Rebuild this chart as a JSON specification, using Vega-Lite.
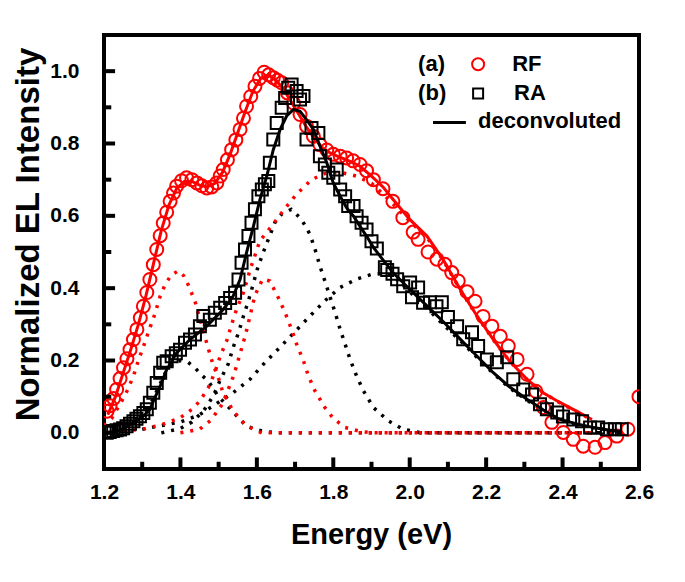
{
  "$schema": "https://vega.github.io/schema/vega-lite/v6.json",
  "width": 535,
  "height": 434,
  "autosize": {"type": "none"},
  "padding": {"left": 104, "top": 35, "right": 46, "bottom": 113},
  "background": "white",
  "config": {
    "view": {"stroke": "#000", "strokeWidth": 4},
    "font": "Liberation Sans",
    "axis": {
      "domain": false, "grid": false, "ticks": false,
      "labelFont": "Liberation Sans", "labelFontWeight": "bold", "labelFontSize": 21, "labelColor": "#000",
      "titleFont": "Liberation Sans", "titleFontWeight": "bold", "titleColor": "#000",
      "labelFlush": false, "labelOverlap": false, "labelBound": false
    }
  },
  "datasets": {
    "rf": [
      {"E":1.208,"I":0.06},{"E":1.216,"I":0.075},{"E":1.225,"I":0.095},{"E":1.233,"I":0.12},{"E":1.242,"I":0.15},{"E":1.251,"I":0.18},{"E":1.26,"I":0.205},{"E":1.268,"I":0.23},{"E":1.277,"I":0.258},{"E":1.286,"I":0.286},{"E":1.295,"I":0.318},{"E":1.303,"I":0.35},{"E":1.312,"I":0.388},{"E":1.32,"I":0.424},{"E":1.329,"I":0.465},{"E":1.338,"I":0.507},{"E":1.347,"I":0.545},{"E":1.355,"I":0.58},{"E":1.364,"I":0.61},{"E":1.373,"I":0.64},{"E":1.382,"I":0.663},{"E":1.39,"I":0.682},{"E":1.403,"I":0.697},{"E":1.416,"I":0.705},{"E":1.43,"I":0.7},{"E":1.443,"I":0.691},{"E":1.456,"I":0.683},{"E":1.469,"I":0.677},{"E":1.482,"I":0.68},{"E":1.495,"I":0.691},{"E":1.504,"I":0.71},{"E":1.512,"I":0.728},{"E":1.523,"I":0.755},{"E":1.534,"I":0.783},{"E":1.545,"I":0.81},{"E":1.556,"I":0.839},{"E":1.565,"I":0.87},{"E":1.573,"I":0.903},{"E":1.584,"I":0.93},{"E":1.595,"I":0.958},{"E":1.607,"I":0.98},{"E":1.619,"I":0.997},{"E":1.631,"I":0.99},{"E":1.643,"I":0.982},{"E":1.654,"I":0.975},{"E":1.665,"I":0.968},{"E":1.68,"I":0.94},{"E":1.696,"I":0.912},{"E":1.713,"I":0.88},{"E":1.73,"I":0.848},{"E":1.748,"I":0.82},{"E":1.765,"I":0.797},{"E":1.783,"I":0.782},{"E":1.8,"I":0.77},{"E":1.818,"I":0.765},{"E":1.835,"I":0.76},{"E":1.852,"I":0.752},{"E":1.87,"I":0.742},{"E":1.887,"I":0.725},{"E":1.905,"I":0.7},{"E":1.93,"I":0.675},{"E":1.956,"I":0.64},{"E":1.982,"I":0.595},{"E":2.009,"I":0.555},{"E":2.022,"I":0.535},{"E":2.048,"I":0.5},{"E":2.071,"I":0.48},{"E":2.092,"I":0.466},{"E":2.11,"I":0.443},{"E":2.127,"I":0.42},{"E":2.15,"I":0.39},{"E":2.171,"I":0.364},{"E":2.192,"I":0.322},{"E":2.215,"I":0.295},{"E":2.237,"I":0.267},{"E":2.258,"I":0.24},{"E":2.281,"I":0.203},{"E":2.307,"I":0.162},{"E":2.33,"I":0.115},{"E":2.35,"I":0.07},{"E":2.372,"I":0.029},{"E":2.402,"I":0.001},{"E":2.428,"I":-0.018},{"E":2.454,"I":-0.037},{"E":2.485,"I":-0.04},{"E":2.511,"I":-0.027},{"E":2.542,"I":-0.009},{"E":2.571,"I":0.01},{"E":2.6,"I":0.1}
    ],
    "ra": [
      {"E":1.207,"I":0.0},{"E":1.215,"I":0.002},{"E":1.224,"I":0.005},{"E":1.233,"I":0.007},{"E":1.242,"I":0.009},{"E":1.25,"I":0.013},{"E":1.259,"I":0.018},{"E":1.268,"I":0.025},{"E":1.277,"I":0.032},{"E":1.285,"I":0.039},{"E":1.294,"I":0.046},{"E":1.303,"I":0.055},{"E":1.312,"I":0.065},{"E":1.32,"I":0.083},{"E":1.329,"I":0.111},{"E":1.338,"I":0.138},{"E":1.347,"I":0.166},{"E":1.355,"I":0.194},{"E":1.364,"I":0.198},{"E":1.377,"I":0.212},{"E":1.388,"I":0.22},{"E":1.399,"I":0.23},{"E":1.412,"I":0.249},{"E":1.425,"I":0.258},{"E":1.438,"I":0.272},{"E":1.451,"I":0.295},{"E":1.46,"I":0.323},{"E":1.477,"I":0.313},{"E":1.49,"I":0.332},{"E":1.504,"I":0.346},{"E":1.517,"I":0.359},{"E":1.53,"I":0.373},{"E":1.543,"I":0.387},{"E":1.552,"I":0.424},{"E":1.56,"I":0.47},{"E":1.569,"I":0.507},{"E":1.578,"I":0.544},{"E":1.586,"I":0.581},{"E":1.595,"I":0.618},{"E":1.604,"I":0.654},{"E":1.613,"I":0.673},{"E":1.621,"I":0.687},{"E":1.63,"I":0.696},{"E":1.634,"I":0.747},{"E":1.643,"I":0.811},{"E":1.652,"I":0.857},{"E":1.665,"I":0.899},{"E":1.674,"I":0.926},{"E":1.682,"I":0.954},{"E":1.691,"I":0.963},{"E":1.704,"I":0.945},{"E":1.713,"I":0.922},{"E":1.722,"I":0.931},{"E":1.73,"I":0.811},{"E":1.743,"I":0.843},{"E":1.761,"I":0.829},{"E":1.765,"I":0.765},{"E":1.778,"I":0.742},{"E":1.787,"I":0.719},{"E":1.8,"I":0.705},{"E":1.809,"I":0.728},{"E":1.818,"I":0.673},{"E":1.831,"I":0.654},{"E":1.839,"I":0.627},{"E":1.853,"I":0.627},{"E":1.861,"I":0.599},{"E":1.874,"I":0.581},{"E":1.887,"I":0.562},{"E":1.9,"I":0.53},{"E":1.914,"I":0.51},{"E":1.935,"I":0.458},{"E":1.941,"I":0.45},{"E":1.955,"I":0.44},{"E":1.967,"I":0.425},{"E":1.983,"I":0.405},{"E":2.001,"I":0.416},{"E":2.006,"I":0.375},{"E":2.022,"I":0.402},{"E":2.035,"I":0.36},{"E":2.053,"I":0.361},{"E":2.07,"I":0.35},{"E":2.084,"I":0.361},{"E":2.1,"I":0.32},{"E":2.124,"I":0.295},{"E":2.14,"I":0.259},{"E":2.163,"I":0.278},{"E":2.179,"I":0.24},{"E":2.202,"I":0.203},{"E":2.228,"I":0.195},{"E":2.255,"I":0.209},{"E":2.271,"I":0.148},{"E":2.297,"I":0.12},{"E":2.32,"I":0.106},{"E":2.341,"I":0.079},{"E":2.359,"I":0.065},{"E":2.386,"I":0.056},{"E":2.401,"I":0.045},{"E":2.428,"I":0.037},{"E":2.451,"I":0.032},{"E":2.472,"I":0.015},{"E":2.493,"I":0.015},{"E":2.516,"I":0.01},{"E":2.537,"I":0.01},{"E":2.555,"I":0.01}
    ],
    "rffit": [
      {"E":1.21,"I":0.05},{"E":1.23,"I":0.1},{"E":1.25,"I":0.165},{"E":1.27,"I":0.23},{"E":1.29,"I":0.3},{"E":1.31,"I":0.38},{"E":1.33,"I":0.47},{"E":1.35,"I":0.56},{"E":1.37,"I":0.63},{"E":1.39,"I":0.675},{"E":1.41,"I":0.695},{"E":1.43,"I":0.695},{"E":1.45,"I":0.685},{"E":1.47,"I":0.68},{"E":1.49,"I":0.69},{"E":1.51,"I":0.72},{"E":1.53,"I":0.77},{"E":1.55,"I":0.83},{"E":1.57,"I":0.89},{"E":1.59,"I":0.945},{"E":1.61,"I":0.98},{"E":1.63,"I":0.99},{"E":1.65,"I":0.975},{"E":1.67,"I":0.95},{"E":1.69,"I":0.915},{"E":1.71,"I":0.88},{"E":1.73,"I":0.845},{"E":1.75,"I":0.815},{"E":1.77,"I":0.79},{"E":1.79,"I":0.775},{"E":1.81,"I":0.765},{"E":1.83,"I":0.757},{"E":1.85,"I":0.748},{"E":1.87,"I":0.737},{"E":1.9,"I":0.71},{"E":1.93,"I":0.68},{"E":1.956,"I":0.646},{"E":2.0,"I":0.59},{"E":2.045,"I":0.544},{"E":2.087,"I":0.48},{"E":2.132,"I":0.397},{"E":2.175,"I":0.325},{"E":2.218,"I":0.259},{"E":2.26,"I":0.2},{"E":2.307,"I":0.148},{"E":2.35,"I":0.11},{"E":2.393,"I":0.084},{"E":2.44,"I":0.058},{"E":2.477,"I":0.037}
    ],
    "rafit": [
      {"E":1.207,"I":0.0},{"E":1.242,"I":0.007},{"E":1.277,"I":0.028},{"E":1.303,"I":0.046},{"E":1.32,"I":0.065},{"E":1.333,"I":0.097},{"E":1.347,"I":0.129},{"E":1.364,"I":0.175},{"E":1.39,"I":0.221},{"E":1.425,"I":0.258},{"E":1.469,"I":0.295},{"E":1.512,"I":0.341},{"E":1.538,"I":0.378},{"E":1.556,"I":0.424},{"E":1.573,"I":0.498},{"E":1.591,"I":0.571},{"E":1.608,"I":0.645},{"E":1.626,"I":0.71},{"E":1.643,"I":0.783},{"E":1.661,"I":0.839},{"E":1.678,"I":0.876},{"E":1.696,"I":0.894},{"E":1.713,"I":0.889},{"E":1.73,"I":0.866},{"E":1.748,"I":0.839},{"E":1.765,"I":0.793},{"E":1.783,"I":0.747},{"E":1.8,"I":0.691},{"E":1.818,"I":0.654},{"E":1.835,"I":0.622},{"E":1.853,"I":0.599},{"E":1.87,"I":0.571},{"E":1.887,"I":0.544},{"E":1.905,"I":0.513},{"E":1.93,"I":0.478},{"E":1.956,"I":0.443},{"E":2.0,"I":0.397},{"E":2.045,"I":0.351},{"E":2.09,"I":0.305},{"E":2.132,"I":0.259},{"E":2.175,"I":0.213},{"E":2.218,"I":0.167},{"E":2.26,"I":0.128},{"E":2.307,"I":0.093},{"E":2.35,"I":0.063},{"E":2.393,"I":0.037},{"E":2.44,"I":0.024},{"E":2.48,"I":0.015},{"E":2.52,"I":0.008},{"E":2.55,"I":0.004}
    ],
    "comps": [
      {"c":"K1","E":1.35,"I":0.0},{"c":"K1","E":1.4,"I":0.012},{"c":"K1","E":1.43,"I":0.03},{"c":"K1","E":1.46,"I":0.06},{"c":"K1","E":1.486,"I":0.102},{"c":"K1","E":1.505,"I":0.148},{"c":"K1","E":1.525,"I":0.19},{"c":"K1","E":1.538,"I":0.236},{"c":"K1","E":1.552,"I":0.277},{"c":"K1","E":1.565,"I":0.323},{"c":"K1","E":1.578,"I":0.365},{"c":"K1","E":1.589,"I":0.406},{"c":"K1","E":1.601,"I":0.452},{"c":"K1","E":1.615,"I":0.494},{"c":"K1","E":1.63,"I":0.535},{"c":"K1","E":1.647,"I":0.581},{"c":"K1","E":1.665,"I":0.605},{"c":"K1","E":1.69,"I":0.618},{"c":"K1","E":1.717,"I":0.59},{"c":"K1","E":1.739,"I":0.549},{"c":"K1","E":1.752,"I":0.508},{"c":"K1","E":1.765,"I":0.461},{"c":"K1","E":1.778,"I":0.42},{"c":"K1","E":1.792,"I":0.374},{"c":"K1","E":1.805,"I":0.332},{"c":"K1","E":1.818,"I":0.286},{"c":"K1","E":1.831,"I":0.245},{"c":"K1","E":1.844,"I":0.203},{"c":"K1","E":1.861,"I":0.157},{"c":"K1","E":1.879,"I":0.116},{"c":"K1","E":1.905,"I":0.07},{"c":"K1","E":1.944,"I":0.033},{"c":"K1","E":1.983,"I":0.01},{"c":"K1","E":2.03,"I":0.0},{"c":"K1","E":2.55,"I":0.0},
      {"c":"K2","E":1.3,"I":0.01},{"c":"K2","E":1.4,"I":0.03},{"c":"K2","E":1.45,"I":0.05},{"c":"K2","E":1.499,"I":0.084},{"c":"K2","E":1.538,"I":0.111},{"c":"K2","E":1.582,"I":0.148},{"c":"K2","E":1.621,"I":0.194},{"c":"K2","E":1.66,"I":0.236},{"c":"K2","E":1.7,"I":0.28},{"c":"K2","E":1.739,"I":0.323},{"c":"K2","E":1.778,"I":0.365},{"c":"K2","E":1.818,"I":0.402},{"c":"K2","E":1.861,"I":0.425},{"c":"K2","E":1.9,"I":0.438},{"c":"K2","E":1.93,"I":0.44},{"c":"K2","E":1.956,"I":0.435},{"c":"K2","E":2.0,"I":0.39},{"c":"K2","E":2.045,"I":0.345},{"c":"K2","E":2.087,"I":0.3},{"c":"K2","E":2.132,"I":0.255},{"c":"K2","E":2.175,"I":0.21},{"c":"K2","E":2.218,"I":0.165},{"c":"K2","E":2.26,"I":0.125},{"c":"K2","E":2.307,"I":0.09},{"c":"K2","E":2.35,"I":0.06},{"c":"K2","E":2.393,"I":0.036},{"c":"K2","E":2.44,"I":0.022},{"c":"K2","E":2.48,"I":0.014},{"c":"K2","E":2.55,"I":0.004},
      {"c":"K3","E":1.2,"I":0.0},{"c":"K3","E":1.25,"I":0.01},{"c":"K3","E":1.28,"I":0.03},{"c":"K3","E":1.3,"I":0.045},{"c":"K3","E":1.32,"I":0.075},{"c":"K3","E":1.34,"I":0.12},{"c":"K3","E":1.36,"I":0.165},{"c":"K3","E":1.38,"I":0.19},{"c":"K3","E":1.4,"I":0.2},{"c":"K3","E":1.42,"I":0.195},{"c":"K3","E":1.438,"I":0.18},{"c":"K3","E":1.455,"I":0.16},{"c":"K3","E":1.473,"I":0.143},{"c":"K3","E":1.499,"I":0.101},{"c":"K3","E":1.534,"I":0.062},{"c":"K3","E":1.573,"I":0.018},{"c":"K3","E":1.613,"I":0.005},{"c":"K3","E":1.65,"I":0.0},{"c":"K3","E":2.55,"I":0.0},
      {"c":"A","E":1.2,"I":0.02},{"c":"A","E":1.22,"I":0.04},{"c":"A","E":1.242,"I":0.079},{"c":"A","E":1.26,"I":0.115},{"c":"A","E":1.277,"I":0.157},{"c":"A","E":1.29,"I":0.2},{"c":"A","E":1.307,"I":0.25},{"c":"A","E":1.32,"I":0.29},{"c":"A","E":1.333,"I":0.328},{"c":"A","E":1.347,"I":0.378},{"c":"A","E":1.36,"I":0.41},{"c":"A","E":1.375,"I":0.435},{"c":"A","E":1.394,"I":0.448},{"c":"A","E":1.408,"I":0.435},{"c":"A","E":1.42,"I":0.41},{"c":"A","E":1.438,"I":0.364},{"c":"A","E":1.455,"I":0.3},{"c":"A","E":1.472,"I":0.236},{"c":"A","E":1.485,"I":0.19},{"c":"A","E":1.5,"I":0.15},{"c":"A","E":1.511,"I":0.112},{"c":"A","E":1.525,"I":0.085},{"c":"A","E":1.538,"I":0.06},{"c":"A","E":1.555,"I":0.04},{"c":"A","E":1.569,"I":0.024},{"c":"A","E":1.59,"I":0.01},{"c":"A","E":1.613,"I":0.0},{"c":"A","E":2.48,"I":0.0},
      {"c":"B","E":1.4,"I":0.0},{"c":"B","E":1.45,"I":0.01},{"c":"B","E":1.48,"I":0.035},{"c":"B","E":1.51,"I":0.08},{"c":"B","E":1.54,"I":0.16},{"c":"B","E":1.57,"I":0.27},{"c":"B","E":1.595,"I":0.38},{"c":"B","E":1.615,"I":0.425},{"c":"B","E":1.634,"I":0.42},{"c":"B","E":1.656,"I":0.374},{"c":"B","E":1.674,"I":0.332},{"c":"B","E":1.691,"I":0.286},{"c":"B","E":1.704,"I":0.245},{"c":"B","E":1.722,"I":0.199},{"c":"B","E":1.735,"I":0.157},{"c":"B","E":1.752,"I":0.116},{"c":"B","E":1.778,"I":0.07},{"c":"B","E":1.8,"I":0.04},{"c":"B","E":1.83,"I":0.015},{"c":"B","E":1.87,"I":0.004},{"c":"B","E":1.9,"I":0.0},{"c":"B","E":2.48,"I":0.0},
      {"c":"C","E":1.25,"I":0.005},{"c":"C","E":1.3,"I":0.01},{"c":"C","E":1.35,"I":0.022},{"c":"C","E":1.4,"I":0.042},{"c":"C","E":1.43,"I":0.065},{"c":"C","E":1.451,"I":0.088},{"c":"C","E":1.473,"I":0.125},{"c":"C","E":1.49,"I":0.167},{"c":"C","E":1.504,"I":0.212},{"c":"C","E":1.521,"I":0.254},{"c":"C","E":1.534,"I":0.3},{"c":"C","E":1.547,"I":0.342},{"c":"C","E":1.565,"I":0.388},{"c":"C","E":1.582,"I":0.45},{"c":"C","E":1.608,"I":0.531},{"c":"C","E":1.639,"I":0.572},{"c":"C","E":1.669,"I":0.614},{"c":"C","E":1.704,"I":0.66},{"c":"C","E":1.743,"I":0.7},{"c":"C","E":1.78,"I":0.718},{"c":"C","E":1.82,"I":0.72},{"c":"C","E":1.86,"I":0.71},{"c":"C","E":1.9,"I":0.69},{"c":"C","E":1.95,"I":0.64},{"c":"C","E":2.0,"I":0.585},{"c":"C","E":2.045,"I":0.54},{"c":"C","E":2.087,"I":0.478},{"c":"C","E":2.132,"I":0.396},{"c":"C","E":2.175,"I":0.324},{"c":"C","E":2.218,"I":0.258},{"c":"C","E":2.26,"I":0.2},{"c":"C","E":2.307,"I":0.147},{"c":"C","E":2.35,"I":0.11},{"c":"C","E":2.393,"I":0.083},{"c":"C","E":2.44,"I":0.057},{"c":"C","E":2.477,"I":0.036}
    ],
    "xmaj": [{"v":1.4},{"v":1.6},{"v":1.8},{"v":2.0},{"v":2.2},{"v":2.4}],
    "xmin": [{"v":1.3},{"v":1.5},{"v":1.7},{"v":1.9},{"v":2.1},{"v":2.3},{"v":2.5}],
    "ymaj": [{"v":0.0},{"v":0.2},{"v":0.4},{"v":0.6},{"v":0.8},{"v":1.0}],
    "ymin": [{"v":0.1},{"v":0.3},{"v":0.5},{"v":0.7},{"v":0.9}],
    "legend": [
      {"k":"(a)","t":"RF"},{"k":"(b)","t":"RA"}
    ]
  },
  "layer": [
    {
      "data": {"name": "comps"},
      "mark": {"type": "line", "strokeWidth": 3.5, "strokeDash": [3, 7], "strokeCap": "butt", "clip": true},
      "encoding": {
        "x": {
          "field": "E", "type": "quantitative",
          "scale": {"domain": [1.2, 2.6], "nice": false, "zero": false},
          "axis": {
            "title": "Energy (eV)", "titleFontSize": 29, "titleX": 267, "titleY": 74, "titleBaseline": "alphabetic", "titleAlign": "center",
            "values": [1.2,1.4,1.6,1.8,2.0,2.2,2.4,2.6],
            "format": ".1f",
            "labelPadding": 12
          }
        },
        "y": {
          "field": "I", "type": "quantitative",
          "scale": {"domain": [-0.1, 1.1], "nice": false, "zero": false},
          "axis": {
            "title": "Normalized EL Intensity", "titleFontSize": 33, "titleX": -66, "titleY": 199, "titleBaseline": "alphabetic", "titleAlign": "center", "titleAngle": -90,
            "values": [0,0.2,0.4,0.6,0.8,1.0],
            "format": ".1f",
            "labelPadding": 25
          }
        },
        "detail": {"field": "c"},
        "color": {"field": "c", "type": "nominal", "legend": null,
          "scale": {"domain": ["K1","K2","K3","A","B","C"], "range": ["#000000","#000000","#000000","#ff0000","#ff0000","#ff0000"]}}
      }
    },
    {
      "data": {"name": "rf"},
      "mark": {"type": "point", "shape": "circle", "filled": false, "size": 169, "strokeWidth": 2, "color": "#ff0000", "opacity": 1, "clip": true},
      "encoding": {"x": {"field": "E", "type": "quantitative"}, "y": {"field": "I", "type": "quantitative"}}
    },
    {
      "data": {"name": "rffit"},
      "mark": {"type": "line", "strokeWidth": 3, "color": "#ff0000"},
      "encoding": {"x": {"field": "E", "type": "quantitative"}, "y": {"field": "I", "type": "quantitative"}}
    },
    {
      "data": {"name": "ra"},
      "mark": {"type": "point", "shape": "square", "filled": false, "size": 144, "strokeWidth": 2, "color": "#000000", "opacity": 1, "clip": true},
      "encoding": {"x": {"field": "E", "type": "quantitative"}, "y": {"field": "I", "type": "quantitative"}}
    },
    {
      "data": {"name": "rafit"},
      "mark": {"type": "line", "strokeWidth": 3, "color": "#000000"},
      "encoding": {"x": {"field": "E", "type": "quantitative"}, "y": {"field": "I", "type": "quantitative"}}
    },
    {
      "data": {"name": "xmaj"},
      "mark": {"type": "rule", "strokeWidth": 4, "color": "#000000", "strokeCap": "butt"},
      "encoding": {"x": {"field": "v", "type": "quantitative"}, "y": {"datum": -0.1}, "y2": {"datum": -0.068}}
    },
    {
      "data": {"name": "xmin"},
      "mark": {"type": "rule", "strokeWidth": 4, "color": "#000000", "strokeCap": "butt"},
      "encoding": {"x": {"field": "v", "type": "quantitative"}, "y": {"datum": -0.1}, "y2": {"datum": -0.08}}
    },
    {
      "data": {"name": "ymaj"},
      "mark": {"type": "rule", "strokeWidth": 4, "color": "#000000", "strokeCap": "butt"},
      "encoding": {"y": {"field": "v", "type": "quantitative"}, "x": {"datum": 1.2}, "x2": {"datum": 1.229}}
    },
    {
      "data": {"name": "ymin"},
      "mark": {"type": "rule", "strokeWidth": 4, "color": "#000000", "strokeCap": "butt"},
      "encoding": {"y": {"field": "v", "type": "quantitative"}, "x": {"datum": 1.2}, "x2": {"datum": 1.219}}
    },
    {
      "data": {"name": "legend"},
      "transform": [{"filter": "datum.t === 'RF'"}],
      "layer": [
        {"mark": {"type": "text", "align": "left", "baseline": "middle", "fontSize": 22, "fontWeight": "bold", "font": "Liberation Sans", "color": "#000"},
         "encoding": {"text": {"field": "k"}, "x": {"datum": 2.022}, "y": {"datum": 1.019}}},
        {"mark": {"type": "point", "shape": "circle", "filled": false, "size": 144, "strokeWidth": 2, "color": "#ff0000", "opacity": 1},
         "encoding": {"x": {"datum": 2.179}, "y": {"datum": 1.019}}},
        {"mark": {"type": "text", "align": "left", "baseline": "middle", "fontSize": 22, "fontWeight": "bold", "font": "Liberation Sans", "color": "#000"},
         "encoding": {"text": {"field": "t"}, "x": {"datum": 2.268}, "y": {"datum": 1.019}}}
      ]
    },
    {
      "data": {"name": "legend"},
      "transform": [{"filter": "datum.t === 'RA'"}],
      "layer": [
        {"mark": {"type": "text", "align": "left", "baseline": "middle", "fontSize": 22, "fontWeight": "bold", "font": "Liberation Sans", "color": "#000"},
         "encoding": {"text": {"field": "k"}, "x": {"datum": 2.022}, "y": {"datum": 0.941}}},
        {"mark": {"type": "point", "shape": "square", "filled": false, "size": 100, "strokeWidth": 2, "color": "#000000", "opacity": 1},
         "encoding": {"x": {"datum": 2.179}, "y": {"datum": 0.938}}},
        {"mark": {"type": "text", "align": "left", "baseline": "middle", "fontSize": 22, "fontWeight": "bold", "font": "Liberation Sans", "color": "#000"},
         "encoding": {"text": {"field": "t"}, "x": {"datum": 2.273}, "y": {"datum": 0.941}}},
        {"mark": {"type": "rule", "strokeWidth": 3, "color": "#000"},
         "encoding": {"x": {"datum": 2.061}, "x2": {"datum": 2.147}, "y": {"datum": 0.858}}},
        {"mark": {"type": "text", "text": "deconvoluted", "align": "left", "baseline": "middle", "fontSize": 22, "fontWeight": "bold", "font": "Liberation Sans", "color": "#000"},
         "encoding": {"x": {"datum": 2.179}, "y": {"datum": 0.862}}}
      ]
    }
  ]
}
